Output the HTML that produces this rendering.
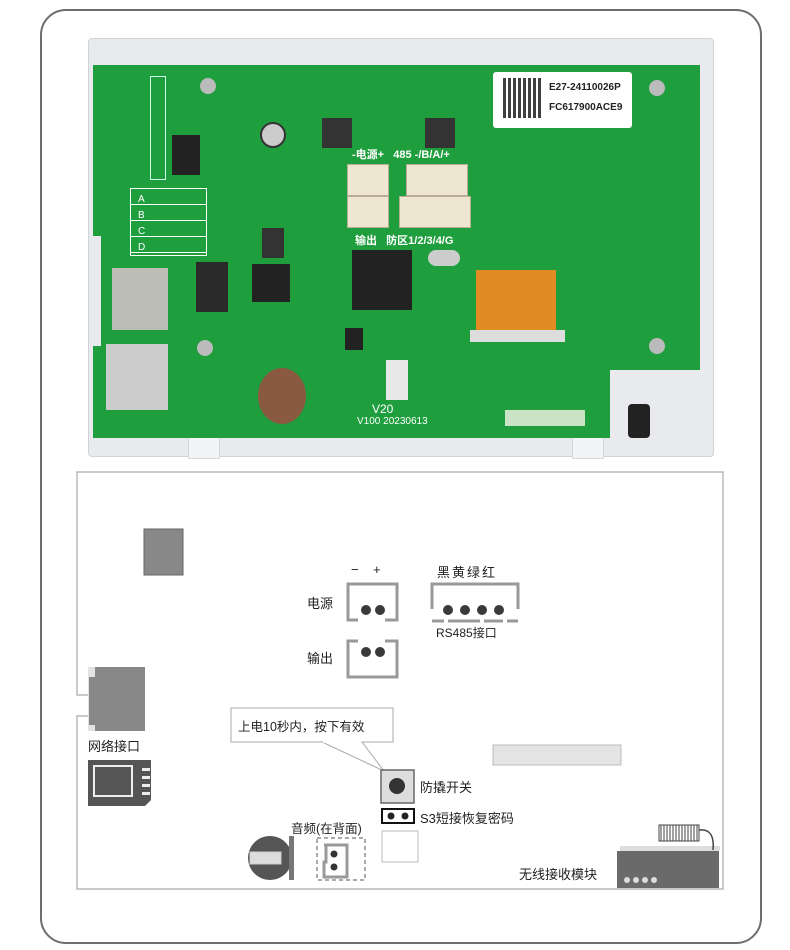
<!DOCTYPE html>
<html><head><meta charset="utf-8"><style>
body{margin:0;background:#fff;font-family:"Liberation Sans","Noto Sans CJK SC",sans-serif;}
.a{position:absolute}
.t{position:absolute;font-size:13px;color:#222;white-space:nowrap;font-family:"Liberation Sans","Noto Sans CJK SC",sans-serif}
.dot{position:absolute;width:10px;height:10px;border-radius:50%;background:#3a3a3a}
.chip{position:absolute;background:#222}
.wc{position:absolute;background:#efe6d2;border:1px solid #b9ad95}
</style></head><body>
<div class="a" style="left:0;top:0;width:790px;height:950px;overflow:hidden">
<div class="a" style="left:40px;top:9px;width:718px;height:931px;border:2px solid #6d6d6d;border-radius:26px"></div>
<!-- casing -->
<div class="a" style="left:88px;top:38px;width:624px;height:417px;background:#e8eaee;border:1px solid #d0d3d8;border-radius:4px"></div>
<div class="a" style="left:188px;top:430px;width:30px;height:27px;background:#f3f4f6;border:1px solid #d5d7db"></div>
<div class="a" style="left:572px;top:430px;width:30px;height:27px;background:#f3f4f6;border:1px solid #d5d7db"></div>
<!-- pcb -->
<div class="a" style="left:93px;top:65px;width:607px;height:373px;background:#1f9e3e"></div>
<div class="a" style="left:610px;top:370px;width:100px;height:70px;background:#e8eaee"></div>
<div class="a" style="left:93px;top:236px;width:8px;height:110px;background:#e8eaee"></div>
<!-- label -->
<div class="a" style="left:493px;top:72px;width:139px;height:56px;background:#fff;border-radius:3px"></div>
<div class="a" style="left:503px;top:78px;width:38px;height:40px;background:repeating-linear-gradient(90deg,#111 0 3px,#fff 3px 5px),#111;opacity:.8"></div>
<div class="t" style="left:549px;top:82px;font-size:10px;font-weight:bold">E27-24110026P</div>
<div class="t" style="left:549px;top:102px;font-size:10px;font-weight:bold">FC617900ACE9</div>
<!-- components -->
<div class="a" style="left:150px;top:76px;width:14px;height:102px;border:1px solid #cfe;"></div>
<div class="chip" style="left:172px;top:135px;width:28px;height:40px"></div>
<div class="a" style="left:260px;top:122px;width:22px;height:22px;border-radius:50%;background:#ccc;border:2px solid #333"></div>
<div class="chip" style="left:322px;top:118px;width:30px;height:30px;background:#333"></div>
<div class="chip" style="left:425px;top:118px;width:30px;height:30px;background:#333"></div>
<div class="t" style="left:352px;top:146px;color:#fff;font-size:11px;font-weight:bold">-电源+&nbsp;&nbsp; 485 -/B/A/+</div>
<div class="wc" style="left:347px;top:164px;width:40px;height:30px"></div>
<div class="wc" style="left:347px;top:196px;width:40px;height:30px"></div>
<div class="wc" style="left:406px;top:164px;width:60px;height:30px"></div>
<div class="wc" style="left:399px;top:196px;width:70px;height:30px"></div>
<div class="t" style="left:355px;top:232px;color:#fff;font-size:11px;font-weight:bold">输出&nbsp;&nbsp; 防区1/2/3/4/G</div>
<div class="a" style="left:130px;top:188px;width:75px;height:66px;border:1px solid #fff;background:repeating-linear-gradient(180deg,transparent 0 15px,#fff 15px 16px)"></div>
<div class="t" style="left:138px;top:192px;color:#fff;font-size:10px;line-height:16px">A<br>B<br>C<br>D</div>
<div class="chip" style="left:262px;top:228px;width:22px;height:30px;background:#333"></div>
<div class="chip" style="left:352px;top:250px;width:60px;height:60px"></div>
<div class="chip" style="left:252px;top:264px;width:38px;height:38px"></div>
<div class="chip" style="left:196px;top:262px;width:32px;height:50px;background:#2a2a2a"></div>
<div class="a" style="left:112px;top:268px;width:56px;height:62px;background:#bdbdb8"></div>
<div class="a" style="left:106px;top:344px;width:62px;height:66px;background:#ccc"></div>
<div class="a" style="left:476px;top:270px;width:80px;height:60px;background:#e08c22"></div>
<div class="a" style="left:470px;top:330px;width:95px;height:12px;background:#ddd"></div>
<div class="a" style="left:428px;top:250px;width:32px;height:16px;background:#ccc;border-radius:8px"></div>
<div class="chip" style="left:345px;top:328px;width:18px;height:22px"></div>
<div class="a" style="left:386px;top:360px;width:22px;height:40px;background:#e8e8e8"></div>
<div class="a" style="left:258px;top:368px;width:48px;height:56px;border-radius:50%;background:#8a5a40"></div>
<div class="a" style="left:197px;top:340px;width:16px;height:16px;border-radius:50%;background:#bbb"></div>
<div class="a" style="left:200px;top:78px;width:16px;height:16px;border-radius:50%;background:#bbb"></div>
<div class="a" style="left:649px;top:80px;width:16px;height:16px;border-radius:50%;background:#bbb"></div>
<div class="a" style="left:649px;top:338px;width:16px;height:16px;border-radius:50%;background:#bbb"></div>
<div class="a" style="left:505px;top:410px;width:80px;height:16px;background:#c9e3c4"></div>
<div class="a" style="left:628px;top:404px;width:22px;height:34px;background:#222;border-radius:4px"></div>
<div class="t" style="left:372px;top:402px;color:#fff;font-size:12px">V20</div>
<div class="t" style="left:357px;top:416px;color:#fff;font-size:10px">V100 20230613</div>
<!-- diagram board -->
<svg class="a" style="left:0;top:0" width="790" height="950">
<defs><pattern id="coil" width="3" height="16" patternUnits="userSpaceOnUse"><rect width="3" height="16" fill="#fff"/><line x1="1" y1="0" x2="1" y2="16" stroke="#444"/></pattern></defs>
<path d="M77 472 H723 V889 H77 V716 H104 V695 H77 Z" fill="none" stroke="#aaa" stroke-width="1.2"/>
<rect x="144" y="529" width="39" height="46" fill="#888" stroke="#666"/>
<rect x="88" y="667" width="57" height="64" fill="#e2e2e2"/><rect x="95" y="667" width="50" height="64" fill="#888"/>
<rect x="89" y="677" width="7" height="48" fill="#888"/>
<path d="M88 760 H151 V800 L145 806 H88 Z" fill="#555"/><rect x="94" y="766" width="38" height="30" fill="#555" stroke="#eee" stroke-width="2"/>
<g fill="#eee"><rect x="142" y="768" width="8" height="3"/><rect x="142" y="776" width="8" height="3"/><rect x="142" y="784" width="8" height="3"/><rect x="142" y="792" width="8" height="3"/></g>
<path d="M358 620 H348 V584 H397 V620 H385" fill="none" stroke="#999" stroke-width="3"/>
<path d="M358 641 H348 V677 H397 V641 H385" fill="none" stroke="#999" stroke-width="3"/>
<path d="M432 609 V584 H518 V609" fill="none" stroke="#999" stroke-width="3"/>
<g stroke="#999" stroke-width="3"><line x1="432" y1="621" x2="444" y2="621"/><line x1="448" y1="621" x2="480" y2="621"/><line x1="484" y1="621" x2="503" y2="621"/><line x1="507" y1="621" x2="518" y2="621"/></g>
<rect x="231" y="708" width="162" height="34" fill="#fff" stroke="#aaa"/>
<path d="M322 742 L384 771 L362 742" fill="#fff" stroke="#aaa"/><line x1="323" y1="742" x2="361" y2="742" stroke="#fff" stroke-width="2"/>
<rect x="381" y="770" width="33" height="33" fill="#ddd" stroke="#666" stroke-width="1.5"/><circle cx="397" cy="786" r="8" fill="#333"/>
<rect x="382" y="809" width="32" height="14" fill="#fff" stroke="#111" stroke-width="2"/>
<circle cx="391" cy="816" r="3.5" fill="#222"/><circle cx="405" cy="816" r="3.5" fill="#222"/>
<rect x="382" y="831" width="36" height="31" fill="#fff" stroke="#bbb"/>
<rect x="317" y="838" width="48" height="42" fill="none" stroke="#555" stroke-dasharray="4,3"/>
<path d="M324 845 H347 V877 H324 V862 H326 V845" fill="none" stroke="#999" stroke-width="3"/>
<circle cx="334" cy="854" r="3.5" fill="#333"/><circle cx="334" cy="867" r="3.5" fill="#333"/>
<circle cx="270" cy="858" r="22" fill="#555"/><rect x="289" y="836" width="5" height="44" fill="#777"/>
<rect x="250" y="852" width="31" height="12" fill="#ddd" stroke="#ccc"/>
<rect x="493" y="745" width="128" height="20" fill="#e4e4e4" stroke="#bbb"/>
<rect x="617" y="851" width="102" height="37" fill="#6a6a6a"/><rect x="620" y="846" width="100" height="5" fill="#ddd"/>
<g fill="#ddd"><circle cx="627" cy="880" r="3"/><circle cx="636" cy="880" r="3"/><circle cx="645" cy="880" r="3"/><circle cx="654" cy="880" r="3"/></g>
<rect x="659" y="825" width="40" height="16" fill="url(#coil)" stroke="#444"/>
<path d="M699 830 Q715 828 713 850" fill="none" stroke="#444" stroke-width="1.5"/>
</svg>
<div class="dot" style="left:361px;top:605px"></div><div class="dot" style="left:375px;top:605px"></div>
<div class="dot" style="left:361px;top:647px"></div><div class="dot" style="left:375px;top:647px"></div>
<div class="dot" style="left:443px;top:605px"></div><div class="dot" style="left:460px;top:605px"></div><div class="dot" style="left:477px;top:605px"></div><div class="dot" style="left:494px;top:605px"></div>
<div class="t" style="left:351px;top:562px">−&nbsp;&nbsp;&nbsp; +</div>
<div class="t" style="left:437px;top:562px;letter-spacing:2px">黑黄绿红</div>
<div class="t" style="left:307px;top:593px">电源</div>
<div class="t" style="left:436px;top:624px;font-size:12px">RS485接口</div>
<div class="t" style="left:307px;top:648px">输出</div>
<div class="t" style="left:88px;top:736px">网络接口</div>
<div class="t" style="left:238px;top:716px;font-size:12.5px">上电10秒内，按下有效</div>
<div class="t" style="left:420px;top:777px">防撬开关</div>
<div class="t" style="left:420px;top:808px">S3短接恢复密码</div>
<div class="t" style="left:291px;top:818px;font-size:12.5px">音频(在背面)</div>
<div class="t" style="left:519px;top:864px">无线接收模块</div>
</div>
</body></html>
